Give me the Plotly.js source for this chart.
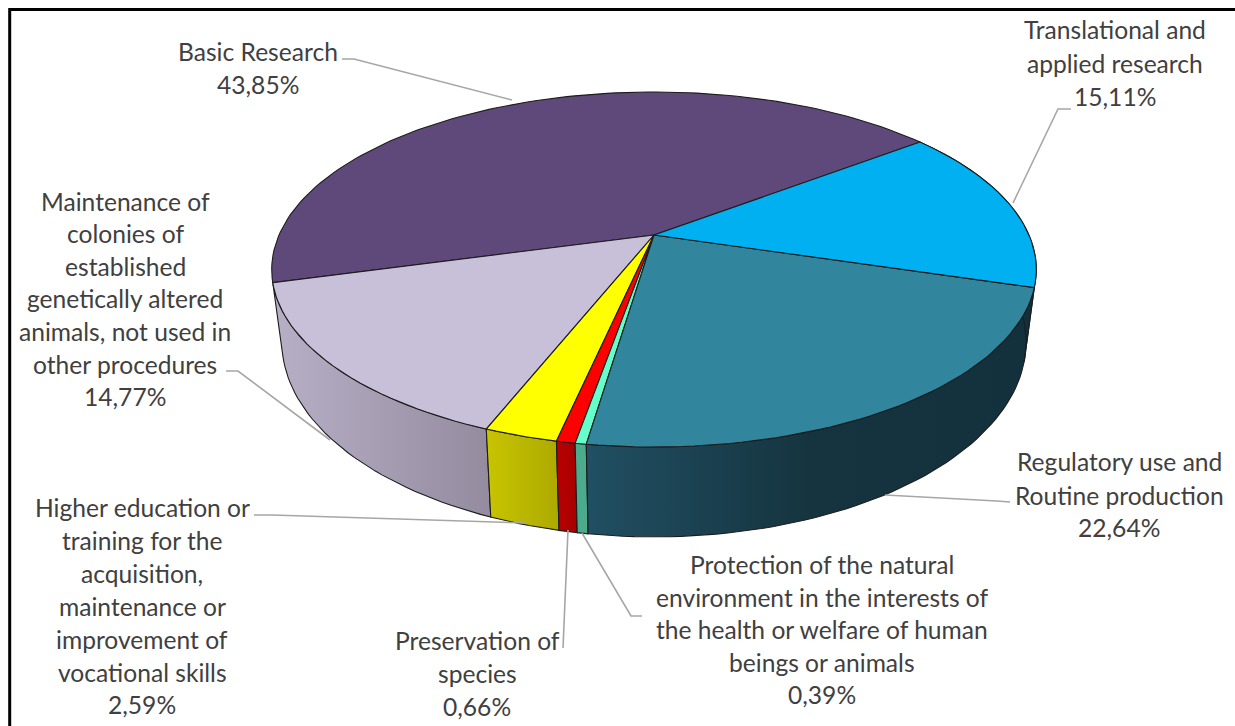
<!DOCTYPE html>
<html><head><meta charset="utf-8">
<script src="https://cdn.plot.ly/plotly-3.0.1.min.js"></script>
<style>html,body{margin:0;padding:0;background:#fff}#c{width:1235px;height:726px}</style></head>
<body><div id="c"></div>
<script>
// ---- data ----
const categories = ['Basic Research','Maintenance of colonies of established genetically altered animals, not used in other procedures','Higher education or training for the acquisition, maintenance or improvement of vocational skills','Preservation of species','Protection of the natural environment in the interests of the health or welfare of human beings or animals','Regulatory use and Routine production','Translational and applied research'];
const percentages = [43.85,14.77,2.59,0.66,0.39,22.64,15.11];
const topColors = ['#5f497a','#c8bfd8','#ffff00','#ff0000','#66ffcc','#31859c','#00b0f0'];
const sideScales = [null,
  [[0,'#b7afc6'],[1,'#948b9f']],
  [[0,'#c8c400'],[1,'#adaa00']],
  [[0,'#b80000'],[1,'#a80000']],
  [[0,'#4cab8c'],[1,'#4cab8c']],
  [[0,'#214f63'],[0.5,'#15343f'],[1,'#12313c']],
  [[0,'#11303c'],[1,'#11303c']]];

// label text, one entry per printed line
const labelLines = [
 [['Basic Research',258,51],['43,85%',258,84]],
 [['Maintenance of',125,201],['colonies of',125,233],['established',125,266],['genetically altered',125,298],['animals, not used in',125,331],['other procedures',125,364],['14,77%',125,396]],
 [['Higher education or',142,507],['training for the',142,540],['acquisition,',142,573],['maintenance or',142,606],['improvement of',142,639],['vocational skills',142,672],['2,59%',142,704]],
 [['Preservation of',477,640],['species',477,673],['0,66%',477,706]],
 [['Protection of the natural',822,564],['environment in the interests of',822,597],['the health or welfare of human',822,629],['beings or animals',822,662],['0,39%',822,694]],
 [['Regulatory use and',1119,461],['Routine production',1119,495],['22,64%',1119,527]],
 [['Translational and',1115,29],['applied research',1115,63],['15,11%',1115,96]]
];
const leaders = [
 [[342,59],[354,59],[512,100]],
 [[226,371],[238,371],[330,440]],
 [[254,515],[272,515],[525,523]],
 [[563,648],[568,530]],
 [[642,616],[631,616],[582,533]],
 [[1010,502],[997,501],[885,495]],
 [[1071,109],[1058,109],[1013,203]]
];

// ---- projection of the pie's two faces ----
const startDeg = 37.5, cx = 654, k = 0.1944;
const faceTop = {A:375, B:170.8, cy:235};
const faceBot = {A:365, B:187.6, cy:304};
const rad = d => d*Math.PI/180;
function project(f,deg){const c=Math.cos(rad(deg)),s=Math.sin(rad(deg)),w=1+k*s;return [cx+f.A*c/w, f.cy-f.B*s/w];}
function arc(f,a,b){const n=Math.max(2,Math.ceil(Math.abs(b-a)/1.5)),o=[];for(let i=0;i<=n;i++)o.push(project(f,a+(b-a)*i/n));return o;}

const total = percentages.reduce((a,b)=>a+b,0);
let cur = startDeg; const spans = percentages.map(v=>{const a=cur;cur+=v/total*360;return [a,cur];});
const outline = {color:'#1c1c1c',width:1.1};
const traces = [];
// sides first
spans.forEach(([a,b],i)=>{
  if(!sideScales[i]) return;
  const pts = arc(faceTop,a,b).concat(arc(faceBot,b,a)); pts.push(pts[0]);
  traces.push({type:'scatter',mode:'lines',x:pts.map(p=>p[0]),y:pts.map(p=>p[1]),fill:'toself',
    fillgradient:{type:'horizontal',colorscale:sideScales[i]},line:outline,hoverinfo:'skip',showlegend:false});
});
// top faces
const apex=[cx,faceTop.cy];
spans.forEach(([a,b],i)=>{
  const pts=[apex].concat(arc(faceTop,a,b),[apex]);
  traces.push({type:'scatter',mode:'lines',x:pts.map(p=>p[0]),y:pts.map(p=>p[1]),fill:'toself',fillcolor:topColors[i],
    line:outline,name:categories[i],text:percentages[i]+'%',hoverinfo:'name+text',showlegend:false});
});

const shapes = [{type:'rect',xref:'x',yref:'y',x0:9.7,y0:9.5,x1:1300,y1:760,line:{color:'#000',width:3},fillcolor:'rgba(0,0,0,0)',layer:'above'}];
leaders.forEach(l=>{
  shapes.push({type:'path',xref:'x',yref:'y',path:'M'+l.map(p=>p.join(' ')).join('L'),line:{color:'#a6a6a6',width:1.6},layer:'above'});
});
const annotations = [];
labelLines.flat().forEach(([t,x,y])=>annotations.push({text:t,x,y,xref:'x',yref:'y',xanchor:'center',yanchor:'middle',showarrow:false,font:{family:'Lato',size:24.6,color:'#404040'}}));

Plotly.newPlot('c',traces,{
  width:1235,height:726,margin:{l:0,r:0,t:0,b:0},paper_bgcolor:'#fff',plot_bgcolor:'#fff',showlegend:false,
  xaxis:{range:[0,1235],visible:false,fixedrange:true},
  yaxis:{range:[726,0],visible:false,fixedrange:true},
  shapes,annotations
},{displayModeBar:false,responsive:false});
</script></body></html>
